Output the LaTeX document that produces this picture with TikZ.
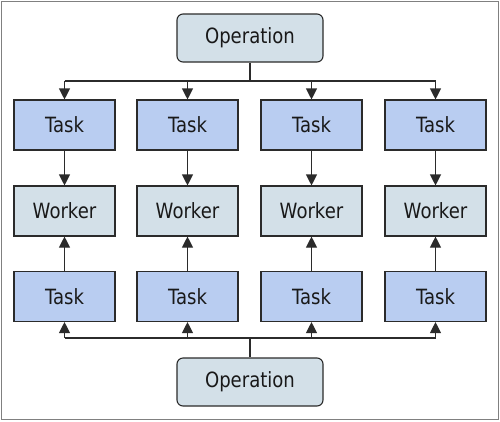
\documentclass[tikz,border=0pt]{standalone}
\usepackage{fontspec}
\setmainfont[FakeStretch=0.86]{DejaVu Sans}
\usetikzlibrary{arrows.meta}
\definecolor{taskblue}{HTML}{B9CDF1}
\definecolor{workgray}{HTML}{D3E0E8}
\definecolor{edge}{HTML}{2B2B2B}
\tikzset{
  box/.style={draw=edge,line width=1.1pt,minimum width=101pt,minimum height=50pt,inner sep=0pt,font=\fontsize{21}{24}\selectfont,text=black!90},
  taskbox/.style={box,fill=taskblue},
  workerbox/.style={box,fill=workgray},
  opbox/.style={box,fill=workgray,rounded corners=6pt,minimum width=146pt,minimum height=48pt},
  conn/.style={draw=edge,line width=1.1pt},
  arr/.style={conn,-{Triangle[width=11pt,length=11pt]}}
}
\begin{document}
\begin{tikzpicture}[x=1pt,y=-1pt]
\useasboundingbox (0,0) rectangle (500,421);
\draw [gray,line width=1pt] (1,1) rectangle (498.5,419.5);
\node [opbox] (opA) at (250,38) {Operation};
\node [opbox] (opB) at (250,382) {Operation};
\node [taskbox] (t1) at (64.5,125) {Task};
\node [taskbox] (t2) at (187.5,125) {Task};
\node [taskbox] (t3) at (311.5,125) {Task};
\node [taskbox] (t4) at (435.5,125) {Task};
\node [workerbox] (w1) at (64.5,211) {Worker};
\node [workerbox] (w2) at (187.5,211) {Worker};
\node [workerbox] (w3) at (311.5,211) {Worker};
\node [workerbox] (w4) at (435.5,211) {Worker};
\node [taskbox] (b1) at (64.5,296.5) {Task};
\node [taskbox] (b2) at (187.5,296.5) {Task};
\node [taskbox] (b3) at (311.5,296.5) {Task};
\node [taskbox] (b4) at (435.5,296.5) {Task};
% top fan-out
\coordinate (jt) at (250,81);
\draw [conn] (opA.south) -- (jt);
\draw [conn] (jt -| t1) -- (jt -| t4);
\draw [arr] (jt -| t1) -- (t1.north);
\draw [arr] (jt -| t2) -- (t2.north);
\draw [arr] (jt -| t3) -- (t3.north);
\draw [arr] (jt -| t4) -- (t4.north);
% tasks to workers
\draw [arr] (t1.south) -- (w1.north);
\draw [arr] (t2.south) -- (w2.north);
\draw [arr] (t3.south) -- (w3.north);
\draw [arr] (t4.south) -- (w4.north);
\draw [arr] (b1.north) -- (w1.south);
\draw [arr] (b2.north) -- (w2.south);
\draw [arr] (b3.north) -- (w3.south);
\draw [arr] (b4.north) -- (w4.south);
% bottom fan-out
\coordinate (jb) at (250,338);
\draw [conn] (opB.north) -- (jb);
\draw [conn] (jb -| b1) -- (jb -| b4);
\draw [arr] (jb -| b1) -- (b1.south);
\draw [arr] (jb -| b2) -- (b2.south);
\draw [arr] (jb -| b3) -- (b3.south);
\draw [arr] (jb -| b4) -- (b4.south);
\end{tikzpicture}
\end{document}
